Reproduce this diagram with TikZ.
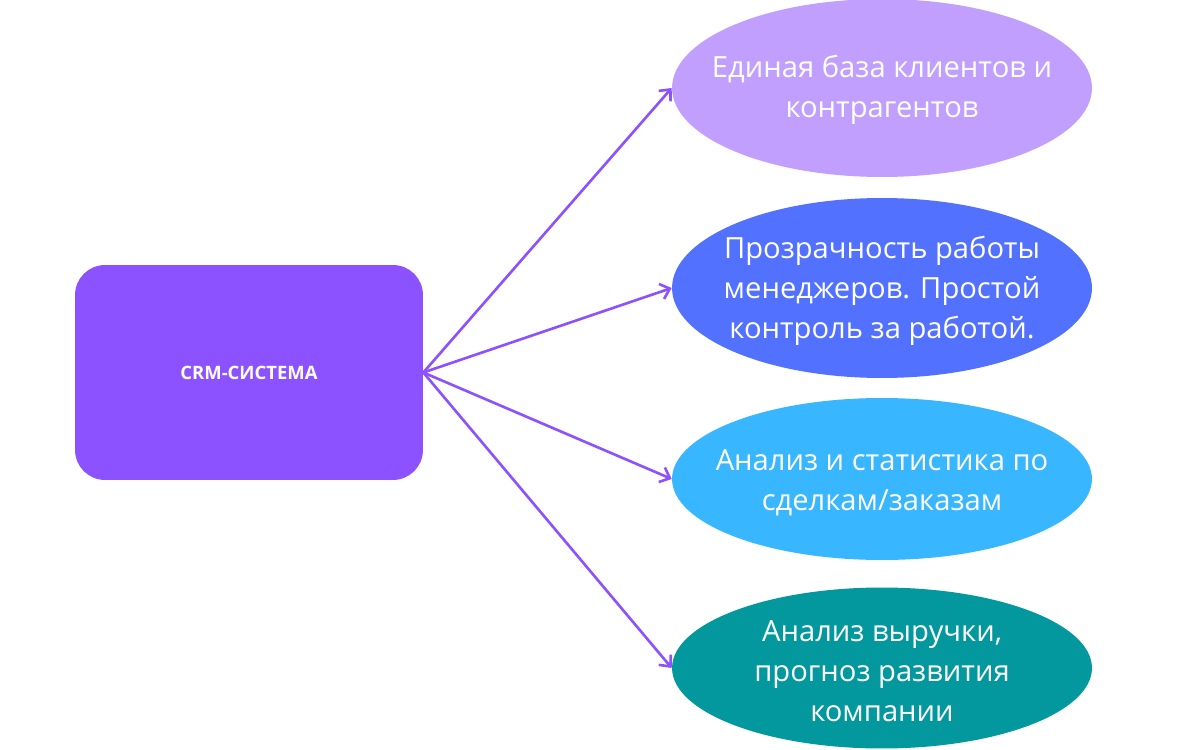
\documentclass[tikz,border=0pt]{standalone}
\usepackage{fontspec}
\setmainfont{Open Sans}
\usetikzlibrary{arrows.meta,shapes.geometric}
\definecolor{crmviolet}{HTML}{8C52FF}
\definecolor{lilac}{HTML}{C09FFF}
\definecolor{royal}{HTML}{5271FF}
\definecolor{sky}{HTML}{38B6FF}
\definecolor{teal}{HTML}{03989E}
\tikzset{
  bubble/.style={ellipse,inner sep=0pt,minimum width=8.4cm},
  bubtext/.style={text=white,align=center,font=\fontsize{16.6}{22.7}\selectfont},
  link/.style={crmviolet,line width=1.5pt,-{Straight Barb[length=5pt,width=9pt]}}
}
\begin{document}
\begin{tikzpicture}[x=0.02cm,y=-0.02cm]
  %Cadre
  \useasboundingbox (0,0) rectangle (1200,750) ;
  %Bloc
  \node [fill=crmviolet,rounded corners=0.6cm,minimum width=6.96cm,minimum height=4.3cm,
         text=white,font=\bfseries\fontsize{10.5}{12}\selectfont] (crm) at (249,372.5) {CRM-СИСТЕМА} ;
  %Ellipses
  \node [bubble,fill=lilac,minimum height=3.56cm]	(base)	at (882,88)	{} ;
  \node [bubble,fill=royal,minimum height=3.6cm]	(ctrl)	at (882,288)	{} ;
  \node [bubble,fill=sky,minimum height=3.24cm]	(stat)	at (882,479)	{} ;
  \node [bubble,fill=teal,minimum height=3.22cm]	(rev)	at (882,668)	{} ;
  %Textes
  \node [bubtext]	(baset)	at (882,90)	{Единая база клиентов и\\контрагентов} ;
  \node [bubtext]	(ctrlt)	at (882,291)	{Прозрачность работы\\менеджеров. Простой\\контроль за работой.} ;
  \node [bubtext]	(statt)	at (882,483)	{Анализ и статистика по\\сделкам/заказам} ;
  \node [bubtext]	(revt)	at (882,671)	{Анализ выручки,\\прогноз развития\\компании} ;
  %Fleches
  \foreach \target in {base,ctrl,stat,rev}
    \draw [link] (crm.east) -- (\target.west) ;
\end{tikzpicture}
\end{document}
